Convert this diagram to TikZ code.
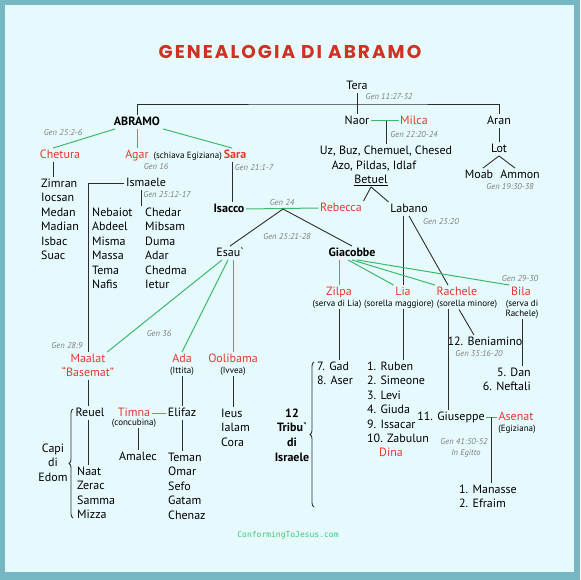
\documentclass[tikz,border=0pt]{standalone}
\usepackage{fontspec}
\setmainfont{PT Sans}
\newfontfamily\titlefont[LetterSpace=11]{Poppins}
\newfontfamily\sitefont{DejaVu Sans Mono}
\usepackage{tikz}
\usetikzlibrary{positioning,decorations.pathreplacing}
\definecolor{framecol}{RGB}{117,184,196}
\definecolor{paper}{RGB}{230,250,254}
\definecolor{titlered}{RGB}{204,51,34}
\definecolor{wifered}{RGB}{226,58,44}
\definecolor{wedgreen}{RGB}{60,185,106}
\definecolor{notegrey}{RGB}{125,125,125}
\definecolor{linecol}{RGB}{45,45,45}
\definecolor{sitegreen}{RGB}{60,200,120}

\begin{document}
\begin{tikzpicture}[x=1pt, y=-1pt,
  person/.style={font=\fontsize{12}{14.5}\selectfont, inner sep=1.5pt, text height=8.5pt, text depth=2pt},
  spouse/.style={person, text=wifered},
  head/.style={person, font=\fontsize{12}{14.5}\selectfont\bfseries},
  boldwife/.style={head, text=wifered},
  kids/.style={font=\fontsize{12}{14.5}\selectfont, inner sep=1.5pt, inner xsep=0pt, align=left},
  note/.style={font=\fontsize{8.5}{10}\selectfont\itshape, text=notegrey, inner sep=1pt},
  aside/.style={font=\fontsize{9}{10}\selectfont, inner sep=1pt},
  kin/.style={draw=linecol, line width=0.9pt},
  wed/.style={draw=wedgreen, line width=1pt},
  curly/.style={decorate, decoration={brace, amplitude=4pt}, draw=linecol, line width=0.9pt}]

  \fill[framecol] (0,0) rectangle (580,580);
  \fill[paper] (5,5) rectangle (574,572);

  \node[font=\titlefont\bfseries\fontsize{18.5}{22}\selectfont, text=titlered] (title) at (290,52) {GENEALOGIA DI ABRAMO};

  \node[person] (tera) at (357,86) {Tera};
  \node[person] (naor) at (357,121) {Naor};
  \node[spouse] (milca) at (414,121) {Milca};
  \node[person] (aran) at (499,121) {Aran};
  \node[head] (abramo) at (137,122) {ABRAMO};
  \node[spouse] (chetura) at (60,155) {Chetura};
  \node[spouse] (agar) at (137,155) {Agar};
  \node[aside, base right=2pt of agar] (schiava) {(schiava Egiziana)};
  \node[boldwife] (sara) at (235,155) {Sara};
  \node[person] (uz) at (386,151) {Uz, Buz, Chemuel, Chesed};
  \node[person] (azo) at (374,166) {Azo, Pildas, Idlaf};
  \node[person] (betuel) at (371,180) {\underline{Betuel}};
  \node[person] (lot) at (499,149) {Lot};
  \node[person] (moab) at (479,175) {Moab};
  \node[person] (ammon) at (520,175) {Ammon};
  \node[person] (ismaele) at (146,183) {Ismaele};
  \node[kids, anchor=north west] (chetkids) at (41,177) {Zimran\\Iocsan\\Medan\\Madian\\Isbac\\Suac};
  \node[kids, anchor=north west] (ismkidsa) at (92,206) {Nebaiot\\Abdeel\\Misma\\Massa\\Tema\\Nafis};
  \node[kids, anchor=north west] (ismkidsb) at (145,206) {Chedar\\Mibsam\\Duma\\Adar\\Chedma\\Ietur};
  \node[head] (isacco) at (229,209) {Isacco};
  \node[spouse] (rebecca) at (341,208) {Rebecca};
  \node[person] (labano) at (409,209) {Labano};
  \node[person] (esau) at (230,253) {Esau\textasciigrave};
  \node[head] (giacobbe) at (352,253) {Giacobbe};

  \node[spouse] (zilpa) at (339,292) {Zilpa};
  \node[spouse] (lia) at (403,292) {Lia};
  \node[spouse] (rachele) at (457,292) {Rachele};
  \node[spouse] (bila) at (521,292) {Bila};
  \node[aside] (servalia) at (337,304) {(serva di Lia)};
  \node[aside] (maggiore) at (399,304) {(sorella maggiore)};
  \node[aside] (minore) at (467,304) {(sorella minore)};
  \node[aside, align=center] (servarach) at (522,309) {(serva di\\Rachele)};
  \node[kids, anchor=north west] (gadlist) at (317,360) {7. Gad\\8. Aser};
  \node[kids, anchor=north west] (rubenlist) at (367,360) {1. Ruben\\2. Simeone\\3. Levi\\4. Giuda\\9. Issacar\\10. Zabulun};
  \node[spouse] (dina) at (391,453) {Dina};
  \node[person] (beniamino) at (485,342) {12. Beniamino};
  \node[kids, anchor=north east, align=right] (danlist) at (531,366) {5. Dan\\6. Neftali};
  \node[person] (giuseppe) at (451,417) {11. Giuseppe};
  \node[spouse] (asenat) at (516,417) {Asenat};
  \node[aside] (egiziana) at (517,429) {(Egiziana)};
  \node[kids, anchor=north west] (manlist) at (459,483) {1. Manasse\\2. Efraim};
  \node[kids, align=center, anchor=north, font=\fontsize{12}{14.7}\selectfont\bfseries] (tribu) at (292,407) {12\\Tribu\textasciigrave\\di\\Israele};

  \node[spouse] (maalat) at (88,359) {Maalat};
  \node[spouse] (basemat) at (88,373) {“Basemat”};
  \node[spouse] (ada) at (182,359) {Ada};
  \node[aside] (ittita) at (182,371) {(Ittita)};
  \node[spouse] (oolibama) at (233,359) {Oolibama};
  \node[aside] (ivvea) at (233,371) {(Ivvea)};
  \node[person] (reuel) at (90,413) {Reuel};
  \node[spouse] (timna) at (134,413) {Timna};
  \node[aside] (concubina) at (134,423) {(concubina)};
  \node[person] (elifaz) at (182,413) {Elifaz};
  \node[kids, anchor=north west] (ieuslist) at (221,407) {Ieus\\Ialam\\Cora};
  \node[kids, anchor=north west] (naatlist) at (77,465) {Naat\\Zerac\\Samma\\Mizza};
  \node[person] (amalec) at (138,457) {Amalec};
  \node[kids, anchor=north west] (temanlist) at (168,451) {Teman\\Omar\\Sefo\\Gatam\\Chenaz};
  \node[kids, align=center, anchor=north] (capi) at (53,442) {Capi\\di\\Edom};

  \node[note] (gentera) at (389,97) {Gen 11:27-32};
  \node[note] (genchet) at (63,133) {Gen 25:2-6};
  \node[note] (genagar) at (156,167) {Gen 16};
  \node[note] (gensara) at (254,168) {Gen 21:1-7};
  \node[note] (genmilca) at (414,135) {Gen 22:20-24};
  \node[note] (genlot) at (510,187) {Gen 19:30-38};
  \node[note] (genism) at (167,195) {Gen 25:12-17};
  \node[note] (genreb) at (282,203) {Gen 24};
  \node[note] (genisa) at (287,237) {Gen 25:21-28};
  \node[note] (genlab) at (441,222) {Gen 25:20};
  \node[note] (genbila) at (520,279) {Gen 29-30};
  \node[note] (genesau) at (159,334) {Gen 36};
  \node[note] (genmaal) at (67,346) {Gen 28:9};
  \node[note] (genben) at (479,354) {Gen 35:16-20};
  \node[note] (gengiu) at (464,442) {Gen 41:50-52};
  \node[note] (egitto) at (466,453) {In Egitto};

  \node[font=\sitefont\fontsize{8}{10}\selectfont, text=sitegreen] (site) at (288,535) {ConformingToJesus.com};

  \coordinate (terabar) at (357,104);
  \coordinate (naorwed) at (386,121);
  \coordinate (isawed) at (283,209);
  \coordinate (giuwed) at (491,417);
  \coordinate (chetdrop) at ([xshift=-7pt]chetura.south);
  \coordinate (ismdrop) at ([xshift=-5pt]ismaele.south);
  \coordinate (reudrop) at ([xshift=-2pt]reuel.south);
  \coordinate (giutop) at ([xshift=-3pt]giuseppe.north);

  \draw[kin] (abramo.north) |- (terabar) -| (aran.north);
  \draw[kin] (tera.south) -- (naor.north);
  \draw[wed] (naor.east) -- (milca.west);
  \draw[kin] (naorwed) -- (uz.north);
  \draw[kin] (aran.south) -- (lot.north);
  \draw[kin] (lot.south) -- ([xshift=4pt]moab.north);
  \draw[kin] (lot.south) -- ([xshift=-5pt]ammon.north);
  \draw[kin] (betuel.south) -- (rebecca.north east);
  \draw[kin] (betuel.south) -- (labano.north west);
  \draw[kin] (labano.south -| lia.north) -- (lia.north);
  \draw[kin] (labano.south) -- ([xshift=-9pt]rachele.north);

  \draw[wed] ([xshift=-22pt]abramo.south) -- ([xshift=-7pt]chetura.north);
  \draw[wed] (abramo.south) -- (agar.north);
  \draw[wed] ([xshift=26pt]abramo.south) -- ([xshift=-3pt]sara.north);
  \draw[kin] ([xshift=-3pt]sara.south) -- ([xshift=3pt]isacco.north);
  \draw[kin] (chetdrop) -- (chetdrop |- chetkids.north);
  \draw[kin] (ismaele.west) -| (maalat.north);
  \draw[kin] (ismdrop) -- (ismdrop |- ismkidsb.north);

  \draw[wed] (isacco.east) -- (rebecca.west);
  \draw[kin] (isawed) -- (esau.north);
  \draw[kin] (isawed) -- (giacobbe.north);

  \draw[wed] ([xshift=-8pt]esau.south) -- (maalat.north east);
  \draw[wed] ([xshift=-2pt]esau.south) -- (ada.north);
  \draw[wed] ([xshift=3pt]esau.south) -- (oolibama.north);
  \draw[kin] (basemat.south) -- (basemat.south |- reuel.north);
  \draw[kin] (reudrop) -- (reudrop |- naatlist.north);
  \draw[kin] (ittita.south) -- (elifaz.north);
  \draw[wed] (timna.east) -- (elifaz.west);
  \draw[kin] (amalec.north |- concubina.south) -- (amalec.north);
  \draw[kin] (elifaz.south) -- (elifaz.south |- temanlist.north);
  \draw[kin] (ivvea.south) -- (ivvea.south |- ieuslist.north);

  \draw[wed] (giacobbe.south -| zilpa.north) -- (zilpa.north);
  \draw[wed] ([xshift=-4pt]giacobbe.south) -- (lia.north west);
  \draw[wed] (giacobbe.south) -- (rachele.north west);
  \draw[wed] ([xshift=5pt]giacobbe.south) -- (bila.north west);
  \draw[kin] (servalia.south -| zilpa.south) -- (zilpa.south |- gadlist.north);
  \draw[kin] (maggiore.south -| lia.south) -- (lia.south |- rubenlist.north);
  \draw[kin] (giutop |- minore.south) -- (giutop);
  \draw[kin] ([xshift=-8pt]minore.south) -- ([xshift=-11pt]beniamino.north);
  \draw[kin] (servarach.south) -- (servarach.south |- danlist.north);
  \draw[wed] (giuseppe.east) -- (asenat.west);
  \draw[kin] (giuwed) -- (giuwed |- manlist.north);

  \draw[curly] (73,518) -- (73,409);
  \draw[curly] (314,507) -- (314,362);
\end{tikzpicture}
\end{document}
